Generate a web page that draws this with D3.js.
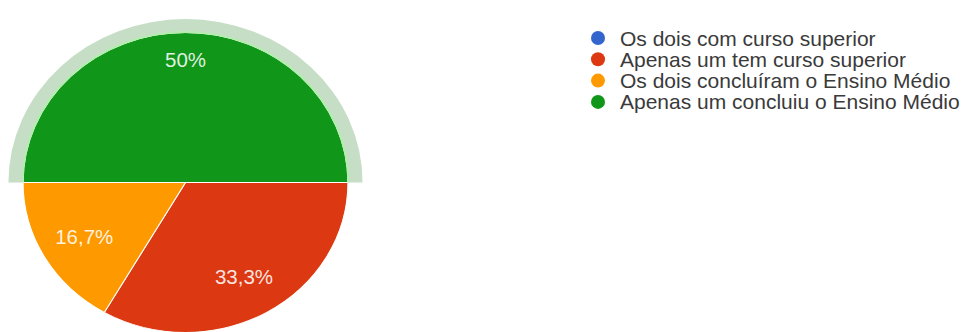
<!DOCTYPE html>
<html>
<head>
<meta charset="utf-8">
<script src="https://cdn.jsdelivr.net/npm/d3@7"></script>
<style>
  html, body { margin: 0; padding: 0; background: #fff; }
  svg { display: block; font-family: "Liberation Sans", Arial, sans-serif; }
</style>
</head>
<body>
<svg id="chart" width="974" height="332"></svg>
<script>
// answer categories, in the order of the legend
const categories = [
    "Os dois com curso superior",
    "Apenas um tem curso superior",
    "Os dois concluíram o Ensino Médio",
    "Apenas um concluiu o Ensino Médio"
];
// number of answers per category (6 in total)
const counts = [0, 2, 1, 3];
const colors = ["#3366cc", "#dc3912", "#ff9900", "#109618"];
// slice that is highlighted (hover ring)
const highlighted = 3;

const svg = d3.select("#chart");

// the source screenshot is slightly stretched horizontally
const cx = 185.5, cy = 182.5, r = 150, sx = 1.083;

const total = d3.sum(counts);
const data = categories.map((c, i) => ({name: c, value: counts[i], color: colors[i], index: i}));

const pie = d3.pie()
    .value(d => d.value)
    .sort(null)
    .startAngle(Math.PI / 2)
    .endAngle(Math.PI / 2 + 2 * Math.PI);

const arcs = pie(data);

const arc = d3.arc().innerRadius(0).outerRadius(r);
const halo = d3.arc().innerRadius(r + 1).outerRadius(r + 13.5);
const rim = d3.arc().innerRadius(r - 0.5).outerRadius(r + 1.5);

const pieG = svg.append("g")
    .attr("transform", `translate(${cx},${cy}) scale(${sx},1)`);

// hover ring around the highlighted slice
const hi = arcs[highlighted];
pieG.append("path")
    .attr("d", halo(hi))
    .attr("fill", "#c6dec6");

pieG.selectAll("path.slice")
    .data(arcs.filter(d => d.value > 0))
    .join("path")
    .attr("class", "slice")
    .attr("d", arc)
    .attr("fill", d => d.data.color)
    .attr("stroke", "#fff")
    .attr("stroke-width", 1);

pieG.append("path")
    .attr("d", rim(hi))
    .attr("fill", "#b4ecb0");

// percent labels
const fmt = v => {
    const p = Math.round(v / total * 1000) / 10;
    return String(p).replace(".", ",") + "%";
};

const labelG = svg.append("g")
    .attr("transform", `translate(${cx},${cy})`);

labelG.selectAll("text")
    .data(arcs.filter(d => d.value > 0))
    .join("text")
    .attr("transform", d => {
        const lr = d.value / total >= 0.5 ? r * 0.82 : r * 0.72;
        const c = d3.arc().innerRadius(lr).outerRadius(lr).centroid(d);
        return `translate(${c[0] * sx},${c[1]})`;
    })
    .attr("text-anchor", "middle")
    .attr("dominant-baseline", "central")
    .attr("font-size", 20.5)
    .attr("fill", "#fff")
    .attr("fill-opacity", 0.88)
    .text(d => fmt(d.value));

// legend
const legend = svg.append("g")
    .attr("transform", "translate(598,38)");

const rows = legend.selectAll("g")
    .data(data)
    .join("g")
    .attr("transform", (d, i) => `translate(0,${i * 21.3})`);

rows.append("circle")
    .attr("r", 7)
    .attr("fill", d => d.color);

rows.append("text")
    .attr("x", 22)
    .attr("dominant-baseline", "central")
    .attr("font-size", 21)
    .attr("fill", "#3a3a3a")
    .text(d => d.name);
</script>
</body>
</html>
